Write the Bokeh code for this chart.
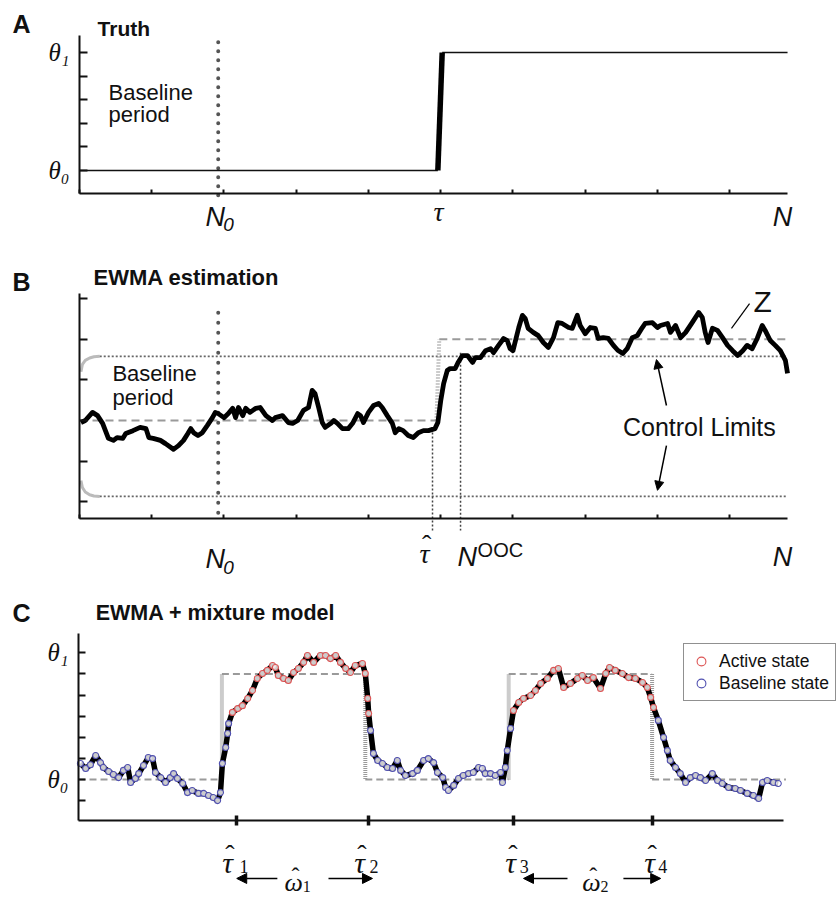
from bokeh.plotting import figure
from bokeh.layouts import column
from bokeh.models import (Range1d, Label, Arrow, NormalHead, FixedTicker,
                          Legend, LegendItem)
from bokeh.embed import file_html
from bokeh.resources import INLINE

# ---------------- data ----------------
# shared x scale for panels A and B (sample index)
N_END = 490
N0 = 96
A_xticks = [0, 50, 100, 150, 200, 250, 300, 350, 400, 450]

# Panel A: true mean (theta0 = 0, theta1 = 5)
A_truth_x = [0, 248, 251, 490]
A_truth_y = [0, 0, 5, 5]
A_yticks = [0, 1, 2, 3, 4, 5]
A_ylabels = {0: "θ₀", 5: "θ₁"}
A_YMIN, A_YMAX = -0.975, 5.72

# Panel B: EWMA statistic Z
B_x = [1, 4, 9, 12.5, 16, 20, 23.5, 26, 30, 32, 37, 42, 46, 48, 51, 56, 59.5, 65, 68.5, 72,
       75, 77, 79, 82, 85, 88.5, 92, 94, 96, 100, 103, 106, 108, 110, 113, 115, 118, 122, 125, 129,
       133.5, 135.5, 140.5, 144.5, 147.5, 151, 155, 158.5, 161, 163, 165.5, 168, 170, 174, 176, 178.5,
       182, 186, 189, 192.5, 194.5, 196.5, 200, 203.5, 207, 209.5, 213, 216.5, 218.5, 221, 224, 227.5,
       231, 234.5, 238, 241.5, 246, 248, 250, 252, 254.5, 256.5, 260, 262, 265, 268.5, 272, 274, 277.5,
       281, 284.5, 286.5, 290, 293.5, 296, 298, 300, 304, 306.5, 308.5, 310.5, 314, 317.5, 321, 324.5,
       328, 331, 334, 338.5, 341, 344.5, 346.5, 350, 353.5, 357, 359, 362.5, 366, 369.5, 372.5, 376,
       379, 382.5, 386, 389.5, 391.5, 396.5, 400, 402, 407, 409, 412.5, 416, 419.5, 424, 428.5, 431,
       433, 435, 438, 441.5, 445, 448.5, 452, 455.5, 459, 462, 465.5, 469, 472.5, 474.5, 478, 481.5,
       485, 488.5, 490]
B_z = [-0.05, 0.0, 0.20, 0.12, -0.07, -0.44, -0.49, -0.42, -0.44, -0.32, -0.25, -0.17, -0.20, -0.42,
       -0.44, -0.49, -0.57, -0.71, -0.62, -0.49, -0.32, -0.20, -0.30, -0.37, -0.30, -0.12, 0.07, 0.20,
       0.17, 0.07, 0.17, 0.30, 0.07, 0.32, 0.12, 0.30, 0.20, 0.30, 0.32, 0.12, 0.0, 0.07, 0.12, -0.05,
       -0.07, 0.0, 0.25, 0.32, 0.74, 0.66, 0.32, -0.05, -0.17, -0.07, 0.0, -0.07, -0.20, -0.20, -0.07,
       0.17, 0.12, -0.05, 0.20, 0.37, 0.42, 0.32, 0.12, -0.07, -0.30, -0.20, -0.25, -0.37, -0.42, -0.30,
       -0.25, -0.25, -0.20, -0.05, 0.49, 0.91, 1.23, 1.28, 1.28, 1.43, 1.60, 1.60, 1.43, 1.55, 1.55,
       1.72, 1.77, 1.67, 1.85, 2.02, 1.97, 1.77, 1.72, 2.29, 2.59, 2.51, 2.27, 2.17, 2.09, 1.92, 1.80,
       2.04, 2.41, 2.39, 2.29, 2.27, 2.59, 2.34, 2.14, 2.29, 2.27, 2.02, 2.04, 2.02, 1.85, 1.73, 1.65,
       1.77, 2.04, 2.09, 2.29, 2.39, 2.41, 2.29, 2.34, 2.39, 2.17, 2.34, 2.04, 2.17, 2.41, 2.66, 2.54,
       2.17, 1.92, 2.27, 2.22, 2.04, 1.85, 1.72, 1.60, 1.72, 1.85, 1.77, 2.02, 2.34, 2.22, 1.97, 1.85,
       1.72, 1.48, 1.16]
B_mean_x = [0, 247, 249, 490]
B_mean_y = [0, 0, 2, 2]
B_ramp_x = [1, 2, 4, 7, 10, 14]
B_ucl_ramp = [1.20, 1.38, 1.48, 1.54, 1.57, 1.58]
B_lcl_ramp = [-1.48, -1.65, -1.76, -1.83, -1.86, -1.87]
B_UCL = 1.58
B_LCL = -1.87
B_yticks = [-2, -1, 0, 1, 2, 3]
B_YMIN, B_YMAX = -2.414, 3.128
TAU_HAT = 244.3
N_OOC = 263.7

# Panel C: EWMA with mixture-model state
C_x = [0.4, 1.5, 2.5, 3.6, 4.6, 5.2, 6.3, 7.3, 8.4, 9.4, 10.3, 10.9, 11.9, 12.6, 13.6, 14.6, 15.5,
       16.1, 17.2, 18.2, 19.2, 19.9, 20.7, 21.8, 22.8, 23.8, 25.1, 26.2, 27.2, 28.2, 29.1, 29.7, 30.1,
       30.8, 31.2, 31.4, 32.2, 33.3, 34.3, 35.4, 36.4, 37.4, 38.5, 39.5, 40.6, 41.2, 41.8, 42.9, 43.9,
       45.0, 46.0, 47.1, 47.9, 49.2, 50.6, 51.7, 52.7, 53.8, 54.8, 55.9, 56.9, 57.9, 59.4, 60.0, 60.5,
       60.7, 61.1, 61.7, 62.6, 63.6, 64.6, 65.7, 66.7, 67.4, 68.4, 69.9, 70.9, 72.2, 73.2, 74.3, 75.1,
       76.2, 76.8, 77.4, 78.5, 79.5, 80.5, 81.6, 82.6, 83.7, 84.5, 85.1, 86.2, 87.2, 88.3, 88.7, 89.3,
       89.7, 90.4, 91.0, 92.1, 93.1, 94.6, 95.6, 96.7, 98.1, 99.4, 100.4, 101.5, 102.9, 104.4, 105.4,
       106.5, 107.7, 109.2, 110.3, 111.1, 112.3, 113.8, 115.1, 116.5, 118.0, 119.0, 119.7, 120.3,
       121.3, 122.4, 123.2, 123.8, 124.9, 125.9, 127.0, 128.0, 129.1, 130.1, 131.2, 132.6, 133.7,
       134.7, 136.0, 137.4, 138.5, 139.9, 141.2, 142.3, 143.1, 144.1, 145.4, 146.4]
C_z = [0.76, 0.52, 0.70, 1.14, 0.80, 0.57, 0.38, 0.24, 0.09, 0.43, 0.57, -0.14, 0.05, 0.28, 0.66,
       1.04, 0.99, 0.33, 0.09, -0.14, 0.09, 0.28, 0.05, -0.19, -0.62, -0.52, -0.66, -0.66, -0.76,
       -0.85, -1.00, -0.62, 0.76, 1.52, 2.18, 2.65, 3.18, 3.36, 3.50, 3.84, 4.22, 4.79, 5.02, 5.17,
       5.40, 5.31, 4.93, 4.79, 4.69, 5.07, 5.26, 5.55, 5.88, 5.55, 5.88, 5.88, 5.73, 5.88, 5.55, 5.26,
       5.07, 5.40, 5.50, 5.02, 3.84, 3.13, 2.32, 1.23, 0.90, 0.76, 0.57, 0.52, 0.90, 0.43, 0.19, 0.28,
       0.43, 0.90, 0.99, 0.80, 0.33, 0.09, -0.38, -0.52, -0.28, 0.05, 0.19, 0.28, 0.33, 0.57, 0.52,
       0.28, 0.28, 0.19, 0.33, -0.14, 0.57, 1.37, 2.42, 3.27, 3.65, 3.84, 3.98, 4.22, 4.55, 4.79, 5.17,
       5.26, 4.36, 4.55, 4.79, 4.93, 4.69, 4.83, 4.31, 5.02, 5.31, 5.17, 5.02, 4.83, 4.79, 4.60, 4.36,
       3.89, 3.41, 2.80, 1.99, 1.37, 0.90, 0.57, 0.28, -0.14, 0.09, 0.19, 0.09, -0.05, 0.28, -0.05,
       -0.19, -0.38, -0.43, -0.52, -0.66, -0.76, -0.90, -0.14, -0.05, -0.14, -0.19]
C_truth_x = [0, 30, 30, 60, 60, 90, 90, 120, 120, 148]
C_truth_y = [0, 0, 5, 5, 0, 0, 5, 5, 0, 0]
C_yticks = [-1, 0, 1, 2, 3, 4, 5, 6]
C_ylabels = {0: "θ₀", 6: "θ₁"}
C_XMAX = 147.5
C_YMIN, C_YMAX = -1.943, 6.919
TAU_HATS = [33.1, 60.6, 91.0, 120.1]
TAU_HAT_SUBS = ["1", "2", "3", "4"]
OMEGA_SUBS = ["1", "2"]
ACTIVE_THRESHOLD = 2.9

SANS = "Liberation Sans"
SERIF = "Liberation Serif"
INK = "#111111"
W = 836


def base_fig(h, xr, yr, xaxis_at, yaxis_at, xbounds, ybounds, xticks, yticks, ylabels):
    p = figure(width=W, height=h, x_range=xr, y_range=yr,
               output_backend="svg", toolbar_location=None,
               min_border_left=0, min_border_right=0,
               min_border_top=0, min_border_bottom=0)
    p.title.visible = False
    p.xgrid.visible = False
    p.ygrid.visible = False
    p.outline_line_color = None
    xa, ya = p.xaxis[0], p.yaxis[0]
    xa.fixed_location = xaxis_at
    ya.fixed_location = yaxis_at
    xa.bounds = xbounds
    ya.bounds = ybounds
    for ax in (xa, ya):
        ax.axis_line_width = 2
        ax.axis_line_color = INK
        ax.major_tick_line_color = INK
        ax.major_tick_line_width = 2
        ax.minor_tick_line_color = None
        ax.major_tick_out = 0
    ya.major_tick_in = 8
    xa.major_tick_in = 4
    xa.ticker = FixedTicker(ticks=xticks)
    xa.major_label_overrides = {t: "" for t in xticks}
    ya.ticker = FixedTicker(ticks=yticks)
    ya.major_label_overrides = {t: ylabels.get(t, "") for t in yticks}
    ya.major_label_text_font = SERIF
    ya.major_label_text_font_style = "italic"
    ya.major_label_text_font_size = "25px"
    ya.major_label_text_color = INK
    ya.major_label_standoff = 10
    return p


def lab(p, x, y, text, size, font=SANS, style="normal", align="left", baseline="middle"):
    p.add_layout(Label(x=x, y=y, text=text, text_font=font, text_font_size=f"{size}px",
                       text_font_style=style, text_align=align, text_baseline=baseline,
                       text_color=INK))


XR_AB = (-54.67, 523.88)

# ---------------- Panel A ----------------
pA = base_fig(258, Range1d(*XR_AB), Range1d(-3.729, 7.203), A_YMIN, 0,
              (0, N_END), (A_YMIN, A_YMAX), A_xticks, A_yticks, A_ylabels)
pA.line([N0, N0], [-1.05, 5.8], line_color="#555555", line_width=4,
        line_dash="0 9", line_cap="round")
pA.line(A_truth_x[:2], A_truth_y[:2], line_color=INK, line_width=1.6)
pA.line(A_truth_x[2:], A_truth_y[2:], line_color=INK, line_width=1.6)
pA.line(A_truth_x[1:3], A_truth_y[1:3], line_color="black", line_width=5.5)
lab(pA, -46.4, 6.19, "A", 25, style="bold")
lab(pA, 12.5, 6.02, "Truth", 21, style="bold")
lab(pA, 20.1, 3.30, "Baseline", 22)
lab(pA, 20.1, 2.37, "period", 22)
lab(pA, 87.2, -1.99, "N", 27, style="italic")
lab(pA, 99.5, -2.29, "0", 19, style="italic")
lab(pA, 248.4, -1.72, "τ", 28, font=SERIF, style="italic", align="center")
lab(pA, 486.5, -1.99, "N", 27, style="italic", align="center")

# ---------------- Panel B ----------------
pB = base_fig(322, Range1d(*XR_AB), Range1d(-3.941, 3.990), B_YMIN, 0,
              (0, N_END), (B_YMIN, B_YMAX), A_xticks, B_yticks, {})
# control limits
pB.line(B_ramp_x, B_ucl_ramp, line_color="#bbbbbb", line_width=3)
pB.line(B_ramp_x, B_lcl_ramp, line_color="#bbbbbb", line_width=3)
pB.line([B_ramp_x[-1], N_END], [B_UCL, B_UCL], line_color="#666666", line_width=1.6,
        line_dash="2 2")
pB.line([B_ramp_x[-1], N_END], [B_LCL, B_LCL], line_color="#666666", line_width=1.6,
        line_dash="2 2")
# true mean
pB.line(B_mean_x[:2], B_mean_y[:2], line_color="#9a9a9a", line_width=2, line_dash="8 5")
pB.line(B_mean_x[2:], B_mean_y[2:], line_color="#9a9a9a", line_width=2, line_dash="8 5")
pB.line(B_mean_x[1:3], B_mean_y[1:3], line_color="#9a9a9a", line_width=4, line_dash="1 2")
# N0 marker
pB.line([N0, N0], [-2.27, 2.76], line_color="#555555", line_width=4,
        line_dash="0 10", line_cap="round")
# tau-hat and N^OOC dotted markers
pB.line([TAU_HAT, TAU_HAT], [-0.2, -2.71], line_color="#444444", line_width=1.5, line_dash="2 2")
pB.line([N_OOC, N_OOC], [1.67, -2.71], line_color="#444444", line_width=1.5, line_dash="2 2")
# EWMA
pB.line(B_x, B_z, line_color="black", line_width=4.8, line_join="round")
# annotations
pB.add_layout(Arrow(end=NormalHead(size=9, fill_color="black", line_color="black"),
                    x_start=406.2, y_start=0.37, x_end=399.3, y_end=1.50,
                    line_color="black", line_width=1.5))
pB.add_layout(Arrow(end=NormalHead(size=9, fill_color="black", line_color="black"),
                    x_start=406.2, y_start=-0.62, x_end=400.0, y_end=-1.72,
                    line_color="black", line_width=1.5))
pB.line([463.7, 451.2], [2.88, 2.27], line_color="black", line_width=1.2)
lab(pB, -46.4, 3.42, "B", 25, style="bold")
lab(pB, 9.7, 3.52, "EWMA estimation", 22, style="bold")
lab(pB, 22.8, 1.16, "Baseline", 22)
lab(pB, 22.8, 0.57, "period", 22)
lab(pB, 429, -0.17, "Control Limits", 25, align="center")
lab(pB, 466.4, 2.93, "Z", 30)
lab(pB, 87.2, -3.40, "N", 27, style="italic")
lab(pB, 99.5, -3.62, "0", 19, style="italic")
lab(pB, 238.8, -3.28, "τ", 28, font=SERIF, style="italic", align="center", baseline="alphabetic")
lab(pB, 240.3, -3.05, "ˆ", 28, font=SERIF, align="center", baseline="alphabetic")
lab(pB, 261.6, -3.35, "N", 27, style="italic")
lab(pB, 275.5, -3.18, "OOC", 20)
lab(pB, 486.5, -3.37, "N", 27, style="italic", align="center")

# ---------------- Panel C ----------------
pC = base_fig(316, Range1d(-16.32, 158.58), Range1d(-5.545, 9.431), C_YMIN, 0,
              (0, C_XMAX), (C_YMIN, C_YMAX), TAU_HATS, C_yticks, C_ylabels)
pC.xaxis[0].major_tick_in = 5
pC.xaxis[0].major_tick_out = 5
pC.xaxis[0].major_tick_line_width = 3.5
pC.yaxis[0].major_tick_in = 7

hx = [[C_truth_x[i], C_truth_x[i + 1]] for i in range(0, len(C_truth_x) - 1, 2)]
hy = [[C_truth_y[i], C_truth_y[i + 1]] for i in range(0, len(C_truth_y) - 1, 2)]
vx = [[C_truth_x[i], C_truth_x[i + 1]] for i in range(1, len(C_truth_x) - 1, 2)]
vy = [[C_truth_y[i], C_truth_y[i + 1]] for i in range(1, len(C_truth_y) - 1, 2)]
pC.multi_line(hx, hy, line_color="#9a9a9a", line_width=2, line_dash="7 4")
pC.multi_line(vx, vy, line_color="#9a9a9a", line_width=4, line_dash="1 1")
pC.line(C_x, C_z, line_color="black", line_width=5.5, line_join="round")

act_x = [x for x, z in zip(C_x, C_z) if z > ACTIVE_THRESHOLD]
act_z = [z for z in C_z if z > ACTIVE_THRESHOLD]
base_x = [x for x, z in zip(C_x, C_z) if z <= ACTIVE_THRESHOLD]
base_z = [z for z in C_z if z <= ACTIVE_THRESHOLD]
r_act = pC.scatter(act_x, act_z, size=6, fill_color="white", fill_alpha=0.8,
                   line_color="#dd5555", line_width=1.1)
r_base = pC.scatter(base_x, base_z, size=6, fill_color="white", fill_alpha=0.8,
                    line_color="#5050b0", line_width=1.1)
legend = Legend(items=[LegendItem(label="Active state", renderers=[r_act]),
                       LegendItem(label="Baseline state", renderers=[r_base])],
                location=(683, 195), orientation="vertical",
                label_text_font=SANS, label_text_font_size="17.5px", label_text_color=INK,
                glyph_width=22, glyph_height=22, label_height=22, label_standoff=7,
                padding=6, spacing=0, margin=0,
                border_line_color="#222222", border_line_width=1.5,
                background_fill_color="white", background_fill_alpha=1)
pC.add_layout(legend)

lab(pC, -13.8, 7.91, "C", 25, style="bold")
lab(pC, 3.6, 7.87, "EWMA + mixture model", 21.5, style="bold")

# tau-hat labels under the ticks
TAU_TXT_X = [31.2, 58.8, 90.4, 119.5]
TAU_SUB_X = [33.7, 60.9, 92.3, 121.3]
for tx, sx, s in zip(TAU_TXT_X, TAU_SUB_X, TAU_HAT_SUBS):
    lab(pC, tx, -3.93, "τ", 30, font=SERIF, style="italic", align="center", baseline="alphabetic")
    lab(pC, tx + 0.5, -3.55, "ˆ", 28, font=SERIF, align="center", baseline="alphabetic")
    lab(pC, sx, -4.1, s, 18, font=SERIF, baseline="alphabetic")

# omega-hat widths with arrows
OMEGA_Y = -4.69
for (a0, a1, tx, sx, b0, b1, s) in [(41.6, 33.1, 45.0, 46.9, 52.3, 61.5, OMEGA_SUBS[0]),
                                     (102.3, 93.1, 107.3, 109.2, 114.0, 121.8, OMEGA_SUBS[1])]:
    for (xs, xe) in [(a0, a1), (b0, b1)]:
        pC.add_layout(Arrow(end=NormalHead(size=10, fill_color="black", line_color="black"),
                            x_start=xs, y_start=OMEGA_Y, x_end=xe, y_end=OMEGA_Y,
                            line_color="black", line_width=1.5))
    lab(pC, tx, -4.88, "ω", 26, font=SERIF, style="italic", align="center", baseline="alphabetic")
    lab(pC, tx + 0.4, -4.56, "ˆ", 24, font=SERIF, align="center", baseline="alphabetic")
    lab(pC, sx, -5.05, s, 16, font=SERIF, baseline="alphabetic")

layout = column(pA, pB, pC, spacing=0)
open("out.html", "w").write(file_html(layout, INLINE))
